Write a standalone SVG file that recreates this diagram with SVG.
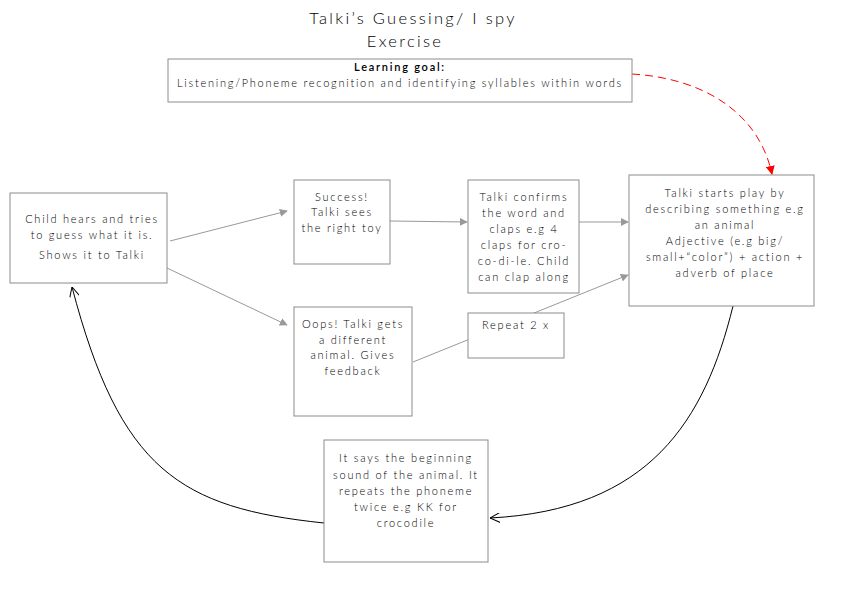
<svg xmlns="http://www.w3.org/2000/svg" width="842" height="595" viewBox="0 0 842 595">
<defs>
<style>
.box{fill:#fff;stroke:#8c8c8c;stroke-width:1}
.t{font-family:Lato,"Open Sans","DejaVu Sans",sans-serif;font-size:11px;font-weight:300;fill:#000;text-anchor:middle;letter-spacing:1.75px}
.title{font-family:Lato,"Open Sans","DejaVu Sans",sans-serif;font-size:16.5px;font-weight:300;fill:#000;text-anchor:middle;letter-spacing:2.3px}
.g{stroke:#999;stroke-width:1;fill:none}
.k{stroke:#000;stroke-width:1;fill:none}
</style>
<marker id="ag" viewBox="0 0 10 10" refX="9" refY="5" markerWidth="8" markerHeight="8" markerUnits="userSpaceOnUse" orient="auto"><path d="M0,0 L10,5 L0,10 z" fill="#999"/></marker>
<marker id="ar" viewBox="0 0 10 10" refX="9" refY="5" markerWidth="9" markerHeight="9" markerUnits="userSpaceOnUse" orient="auto"><path d="M0,0 L10,5 L0,10 z" fill="#f00"/></marker>
<marker id="ak" viewBox="0 0 10 10" refX="10" refY="5" markerWidth="10" markerHeight="10" markerUnits="userSpaceOnUse" orient="auto"><path d="M0,0 L10,5 L0,10" fill="none" stroke="#000" stroke-width="1"/></marker>
</defs>
<rect width="842" height="595" fill="#fff"/>
<text class="title" x="413" y="24">Talki’s Guessing/ I spy</text>
<text class="title" x="405" y="47">Exercise</text>

<g id="connectors">
<line class="g" x1="170" y1="241" x2="287" y2="211" marker-end="url(#ag)"/>
<line class="g" x1="167" y1="268" x2="287" y2="325" marker-end="url(#ag)"/>
<line class="g" x1="390" y1="221" x2="467" y2="222" marker-end="url(#ag)"/>
<line class="g" x1="579" y1="222" x2="628" y2="222" marker-end="url(#ag)"/>
<line class="g" x1="413" y1="362" x2="628" y2="275" marker-end="url(#ag)"/>
<path d="M632,74 C700,78 758,110 772,174" fill="none" stroke="#f00" stroke-width="1" stroke-dasharray="8,5" marker-end="url(#ar)"/>
<path class="k" d="M733,306 C705,420 650,510 490,518" marker-end="url(#ak)"/>
<path class="k" d="M324,523 C180,508 120,470 72,287" marker-end="url(#ak)"/>
</g>

<g id="goal">
<rect class="box" x="168" y="59" width="464" height="43"/>
<text class="t" x="400" y="71" style="font-weight:600">Learning goal:</text>
<text class="t" x="400" y="87">Listening/Phoneme recognition and identifying syllables within words</text>
</g>

<g id="child">
<rect class="box" x="10" y="193" width="157" height="90"/>
<text class="t" x="92" y="223">Child hears and tries</text>
<text class="t" x="92" y="239">to guess what it is.</text>
<text class="t" x="92" y="259">Shows it to Talki</text>
</g>

<g id="success">
<rect class="box" x="294" y="180" width="96" height="84"/>
<text class="t" x="342" y="201">Success!</text>
<text class="t" x="342" y="216">Talki sees</text>
<text class="t" x="342" y="232">the right toy</text>
</g>

<g id="oops">
<rect class="box" x="294" y="307" width="118" height="109"/>
<text class="t" x="353" y="328">Oops! Talki gets</text>
<text class="t" x="353" y="344">a different</text>
<text class="t" x="353" y="359">animal. Gives</text>
<text class="t" x="353" y="375">feedback</text>
</g>

<g id="confirms">
<rect class="box" x="468" y="180" width="111" height="113"/>
<text class="t" x="524" y="201">Talki confirms</text>
<text class="t" x="524" y="217">the word and</text>
<text class="t" x="524" y="233">claps e.g 4</text>
<text class="t" x="524" y="249">claps for cro-</text>
<text class="t" x="524" y="265">co-di-le. Child</text>
<text class="t" x="524" y="281">can clap along</text>
</g>

<g id="repeat">
<rect class="box" x="468" y="313" width="96" height="45"/>
<text class="t" x="516" y="329">Repeat 2 x</text>
</g>

<g id="starts">
<rect class="box" x="629" y="175" width="185" height="131"/>
<text class="t" x="725" y="197">Talki starts play by</text>
<text class="t" x="725" y="213">describing something e.g</text>
<text class="t" x="725" y="229">an animal</text>
<text class="t" x="725" y="245">Adjective (e.g big/</text>
<text class="t" x="725" y="261">small+“color”) + action +</text>
<text class="t" x="725" y="277">adverb of place</text>
</g>

<g id="sound">
<rect class="box" x="324" y="440" width="164" height="122"/>
<text class="t" x="406" y="462">It says the beginning</text>
<text class="t" x="406" y="479">sound of the animal. It</text>
<text class="t" x="406" y="495">repeats the phoneme</text>
<text class="t" x="406" y="511">twice e.g KK for</text>
<text class="t" x="406" y="527">crocodile</text>
</g>
</svg>
